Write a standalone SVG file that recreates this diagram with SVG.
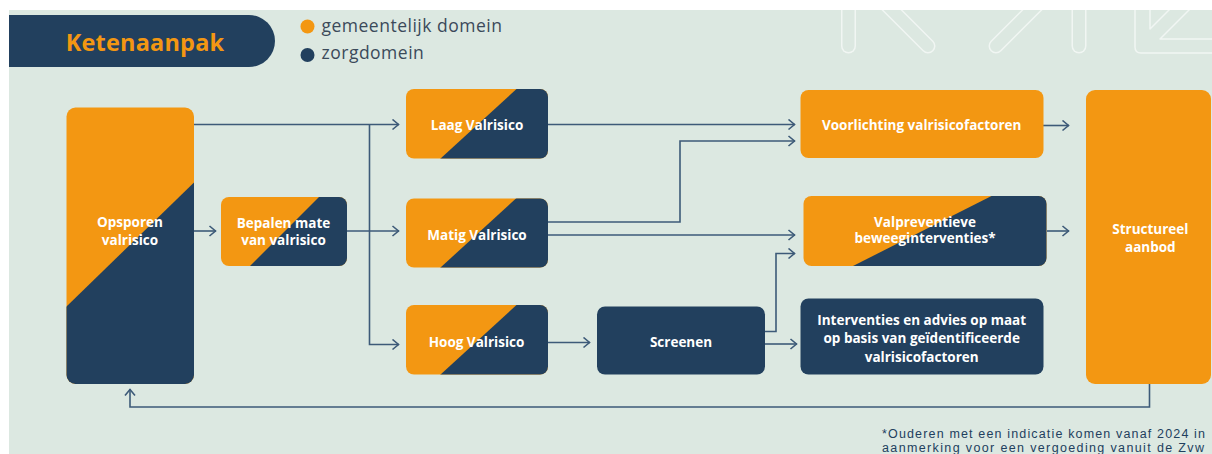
<svg xmlns="http://www.w3.org/2000/svg" width="1212" height="454" viewBox="0 0 1212 454">
  <style>
    .bg { fill: #dce8e1; }
    .orange { fill: #f39712; }
    .navy { fill: #22405e; }
    .lbl { font-family: "Open Sans", "Liberation Sans", sans-serif; font-weight: 700; font-size: 13.5px; fill: #ffffff; text-anchor: middle; }
    .legend { font-family: "Open Sans", "Liberation Sans", sans-serif; font-size: 17.5px; letter-spacing: 0.5px; fill: #3b4a5a; }
    .note { font-family: "Liberation Sans", "Open Sans", sans-serif; font-size: 12.5px; fill: #22405e; }
    .title { font-family: "Open Sans", "Liberation Sans", sans-serif; font-weight: 700; font-size: 23.5px; letter-spacing: 0.2px; fill: #f39712; text-anchor: middle; }
    .conn { fill: none; stroke: #3d5a78; stroke-width: 1.6; }
    .deco-o { fill: none; stroke: #f1f6f3; stroke-width: 15; stroke-linecap: round; }
    .deco-i { fill: none; stroke: #dce8e1; stroke-width: 12; stroke-linecap: round; }
    .deco-l { fill: none; stroke: #f1f6f3; stroke-width: 1.5; stroke-linejoin: round; }
  </style>
  <defs>
    <marker id="chev" markerUnits="userSpaceOnUse" markerWidth="12" markerHeight="14" refX="8" refY="6" orient="auto">
      <path d="M1.5,1 L7.5,6 L1.5,11" fill="none" stroke="#3d5a78" stroke-width="1.6"/>
    </marker>
    <clipPath id="c-opsporen"><rect x="66.5" y="107.5" width="127.5" height="276.5" rx="9"/></clipPath>
    <clipPath id="c-bepalen"><rect x="221" y="197" width="126" height="69" rx="8"/></clipPath>
    <clipPath id="c-laag"><rect x="406" y="89" width="142" height="69.5" rx="8"/></clipPath>
    <clipPath id="c-matig"><rect x="406" y="198.5" width="142" height="69" rx="8"/></clipPath>
    <clipPath id="c-hoog"><rect x="406" y="305" width="142" height="69.5" rx="8"/></clipPath>
    <clipPath id="c-valprev"><rect x="803.5" y="196" width="243" height="70" rx="8"/></clipPath>
  </defs>

  <!-- page background -->
  <rect x="0" y="0" width="1212" height="454" fill="#ffffff"/>
  <rect class="bg" x="9" y="10" width="1203" height="444"/>

  <!-- decorative outlined arrows, top right -->
  <g id="decoration">
    <path class="deco-o" d="M848.5,0 V46"/>
    <path class="deco-i" d="M848.5,0 V46"/>
    <path class="deco-o" d="M868,-14 L928,46"/>
    <path class="deco-i" d="M868,-14 L928,46"/>
    <path class="deco-o" d="M1056,-14 L996,46"/>
    <path class="deco-i" d="M1056,-14 L996,46"/>
    <path class="deco-o" d="M1079,0 V46"/>
    <path class="deco-i" d="M1079,0 V46"/>
    <path class="deco-l" d="M1135,8 V47 Q1135,53 1141,53 H1214"/>
    <path class="deco-l" d="M1150,8 V29 L1170,9"/>
    <path class="deco-l" d="M1214,39 H1160 L1191,8"/>
    <rect x="0" y="0" width="1212" height="10" fill="#ffffff"/>
  </g>

  <!-- title and legend -->
  <g id="title">
    <path class="navy" d="M9,15 H249 A26,26 0 0 1 249,67 H9 Z"/>
    <text class="title" x="145" y="51">Ketenaanpak</text>
  </g>
  <g id="legend">
    <circle class="orange" cx="307.5" cy="26.5" r="7"/>
    <text class="legend" x="321.5" y="31.5">gemeentelijk domein</text>
    <circle class="navy" cx="307.5" cy="55" r="7"/>
    <text class="legend" x="321.5" y="58.5">zorgdomein</text>
  </g>

  <!-- connectors -->
  <g id="connectors">
    <path class="conn" d="M194,124.5 H399" marker-end="url(#chev)"/>
    <path class="conn" d="M369.5,124.5 V344.5 H399" marker-end="url(#chev)"/>
    <path class="conn" d="M194,231 H216" marker-end="url(#chev)"/>
    <path class="conn" d="M347,231 H399" marker-end="url(#chev)"/>
    <path class="conn" d="M548,124.5 H795" marker-end="url(#chev)"/>
    <path class="conn" d="M548,222 H680 V141 H795" marker-end="url(#chev)"/>
    <path class="conn" d="M548,235 H795" marker-end="url(#chev)"/>
    <path class="conn" d="M548,342.5 H590" marker-end="url(#chev)"/>
    <path class="conn" d="M765,331.5 H776 V253.5 H795" marker-end="url(#chev)"/>
    <path class="conn" d="M765,344 H797" marker-end="url(#chev)"/>
    <path class="conn" d="M1043,125.5 H1069" marker-end="url(#chev)"/>
    <path class="conn" d="M1047,231 H1069" marker-end="url(#chev)"/>
    <path class="conn" d="M1149.5,384 V407 H130 V389" marker-end="url(#chev)"/>
  </g>

  <!-- nodes -->
  <g id="opsporen" clip-path="url(#c-opsporen)">
    <rect class="orange" x="66" y="107" width="129" height="278"/>
    <polygon class="navy" points="194.5,182 194.5,385 66,385 66,307"/>
    <text class="lbl" x="130" y="226.5">Opsporen</text>
    <text class="lbl" x="130" y="244.5">valrisico</text>
  </g>
  <g id="bepalen" clip-path="url(#c-bepalen)">
    <rect class="orange" x="221" y="197" width="126" height="69"/>
    <polygon class="navy" points="319,197 347,197 347,266 250,266"/>
    <text class="lbl" x="283.5" y="227.5">Bepalen mate</text>
    <text class="lbl" x="283.5" y="245">van valrisico</text>
  </g>
  <g id="laag" clip-path="url(#c-laag)">
    <rect class="orange" x="406" y="89" width="142" height="70"/>
    <polygon class="navy" points="516.5,89 548,89 548,159 440,159"/>
    <text class="lbl" x="477" y="129.5">Laag Valrisico</text>
  </g>
  <g id="matig" clip-path="url(#c-matig)">
    <rect class="orange" x="406" y="198" width="142" height="70"/>
    <polygon class="navy" points="516.5,198 548,198 548,268 440,268"/>
    <text class="lbl" x="477" y="240">Matig Valrisico</text>
  </g>
  <g id="hoog" clip-path="url(#c-hoog)">
    <rect class="orange" x="406" y="305" width="142" height="70"/>
    <polygon class="navy" points="516.5,305 548,305 548,375 440,375"/>
    <text class="lbl" x="476.5" y="346.5">Hoog Valrisico</text>
  </g>
  <g id="screenen">
    <rect class="navy" x="597" y="306.5" width="168" height="68" rx="8"/>
    <text class="lbl" x="681" y="346.5">Screenen</text>
  </g>
  <g id="voorlichting">
    <rect class="orange" x="800.5" y="90" width="243" height="68" rx="8"/>
    <text class="lbl" x="921.7" y="130">Voorlichting valrisicofactoren</text>
  </g>
  <g id="valpreventieve" clip-path="url(#c-valprev)">
    <rect class="orange" x="803" y="196" width="244" height="70"/>
    <polygon class="navy" points="991.5,196 1047,196 1047,266 853,266"/>
    <text class="lbl" x="925" y="226.5">Valpreventieve</text>
    <text class="lbl" x="925" y="242.5">beweeginterventies*</text>
  </g>
  <g id="interventies">
    <rect class="navy" x="800.5" y="298.5" width="243" height="76" rx="8"/>
    <text class="lbl" x="921.7" y="325">Interventies en advies op maat</text>
    <text class="lbl" x="921.7" y="343.3">op basis van geïdentificeerde</text>
    <text class="lbl" x="921.7" y="361.7">valrisicofactoren</text>
  </g>
  <g id="structureel">
    <rect class="orange" x="1086" y="90" width="125" height="294" rx="9"/>
    <text class="lbl" x="1150.3" y="234">Structureel</text>
    <text class="lbl" x="1150.3" y="251.7">aanbod</text>
  </g>

  <!-- footnote -->
  <g id="footnote">
    <text class="note" x="882" y="437.5" textLength="323" lengthAdjust="spacing">*Ouderen met een indicatie komen vanaf 2024 in</text>
    <text class="note" x="882" y="451.5" textLength="322" lengthAdjust="spacing">aanmerking voor een vergoeding vanuit de Zvw</text>
  </g>
</svg>
